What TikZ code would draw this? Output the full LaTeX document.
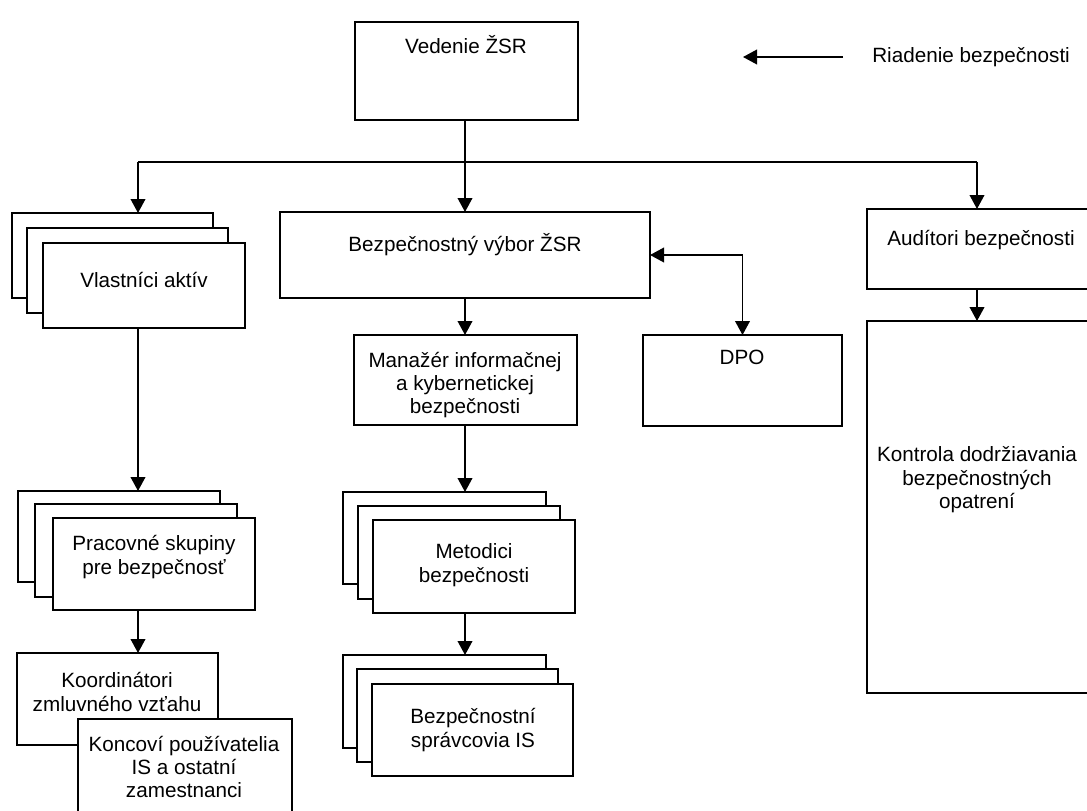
\documentclass[tikz,border=0pt]{standalone}
\usepackage{fontspec}
\setmainfont{Liberation Sans}
\usetikzlibrary{arrows.meta,fit}
\begin{document}
\begin{tikzpicture}[x=0.75pt,y=-0.75pt,
 box/.style={draw, line width=1.5pt, fill=white, inner sep=0pt, outer sep=0pt},
 txt/.style={align=center, inner sep=0pt, font=\fontsize{15.5}{17.6}\selectfont},
 conn/.style={line width=1.3pt},
 arr/.style={conn, -{Triangle[width=11pt,length=10.5pt]}},
 darr/.style={conn, {Triangle[width=11pt,length=10.5pt]}-{Triangle[width=11pt,length=10.5pt]}}]
\clip (0,0) rectangle (1087,810);
\useasboundingbox (0,0) rectangle (1087,810);
\fill[white] (0,0) rectangle (1087,810);

% top
\node[box, fit={(355,22)(578,120)}] (ved) {};
\node[txt] (vedT) at (466,45) {Vedenie ŽSR};
\coordinate (legS) at (843,57);
\coordinate (legE) at (743,57);
\node[txt, anchor=west] (ria) at (872,57) {Riadenie bezpečnosti};
\draw[arr] (legS) -- (legE);

% Vlastnici stack
\node[box, fit={(12,213)(213,298)}] (vla1) {};
\node[box, fit={(27,228)(228,313)}] (vla2) {};
\node[box, fit={(43,243)(245,328)}] (vla3) {};
\node[txt] (vlaT) at (144,280) {Vlastníci aktív};

% Bezpecnostny vybor
\node[box, fit={(280,212)(650,298)}] (bvz) {};
\node[txt] (bvzT) at (465,245) {Bezpečnostný výbor ŽSR};

% Auditori
\node[box, fit={(867,209)(1095,289)}] (aud) {};
\node[txt] (audT) at (981,240) {Audítori bezpečnosti};

% Manazer
\node[box, line width=2pt, fit={(354,335)(577,425)}] (man) {};
\node[txt] (manT) at (465,385) {Manažér informačnej\\a kybernetickej\\bezpečnosti};

% DPO
\node[box, fit={(643,335)(842,426)}] (dpo) {};
\node[txt] (dpoT) at (742,357) {DPO};

% Kontrola
\node[box, fit={(867,321)(1095,693)}] (kon) {};
\node[txt] (konT) at (977,480) {Kontrola dodržiavania\\bezpečnostných\\opatrení};

% Pracovne skupiny stack
\node[box, fit={(18,491)(220,582)}] (pra1) {};
\node[box, fit={(35,504)(237,597)}] (pra2) {};
\node[box, fit={(53,518)(255,610)}] (pra3) {};
\node[txt] (praT) at (154,557) {Pracovné skupiny\\pre bezpečnosť};

% Koordinatori + Koncovi
\node[box, fit={(17,653)(218,745)}] (koo) {};
\node[txt] (kooT) at (117,692) {Koordinátori\\zmluvného vzťahu};
\node[box, fit={(78,719)(292,815)}] (kou) {};
\node[txt] (kouT) at (184,767) {Koncoví používatelia\\IS a ostatní\\zamestnanci};

% Metodici stack
\node[box, fit={(343,492)(546,584)}] (met1) {};
\node[box, fit={(358,506)(560,599)}] (met2) {};
\node[box, fit={(373,520)(575,613)}] (met3) {};
\node[txt] (metT) at (474,565) {Metodici\\bezpečnosti};

% Bezpecnostni spravcovia stack
\node[box, fit={(343,655)(546,748)}] (bez1) {};
\node[box, fit={(357,669)(558,762)}] (bez2) {};
\node[box, fit={(372,684)(573,776)}] (bez3) {};
\node[txt] (bezT) at (473,730) {Bezpečnostní\\správcovia IS};

% connectors
\coordinate (jL) at (138,162);
\coordinate (jC) at (465,162);
\coordinate (jR) at (977,162);
\draw[conn] (jC |- ved.south) -- (jC);
\draw[conn] (jL) -- (jR);
\draw[arr] (jL) -- (jL |- vla1.north);
\draw[arr] (jC) -- (jC |- bvz.north);
\draw[arr] (jR) -- (jR |- aud.north);
\draw[arr] (jL |- vla3.south) -- (jL |- pra1.north);
\draw[arr] (jL |- pra3.south) -- (jL |- koo.north);
\draw[arr] (jC |- bvz.south) -- (jC |- man.north);
\draw[arr] (jC |- man.south) -- (jC |- met1.north);
\draw[arr] (jC |- met3.south) -- (jC |- bez1.north);
\draw[darr] (bvz.east) -| (dpo.north);
\draw[arr] (jR |- aud.south) -- (jR |- kon.north);
\end{tikzpicture}
\end{document}
